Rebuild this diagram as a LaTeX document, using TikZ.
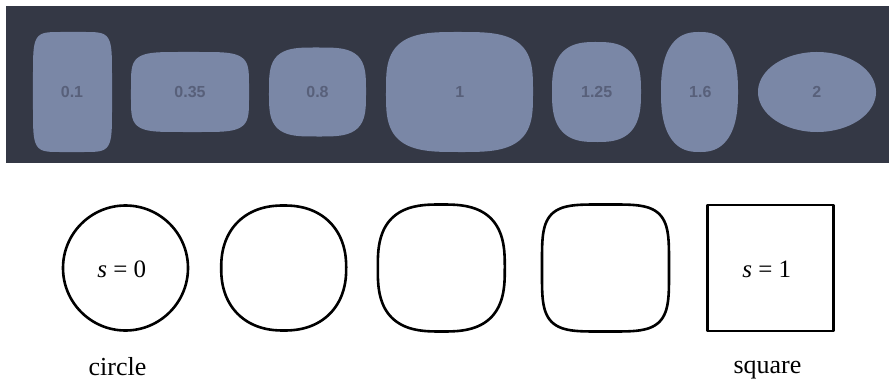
\documentclass[tikz,border=0pt]{standalone}
\usepackage{fontspec}
\setmainfont{Liberation Serif}
\newfontfamily\valuefont{Liberation Sans}
\usepackage{xcolor}
\usepackage{tikz}
\definecolor{panelbg}{RGB}{52,56,69}
\definecolor{blobfill}{RGB}{122,135,166}
\definecolor{blobtext}{RGB}{88,96,122}
\tikzset{
  panel/.style={fill=panelbg, draw=none},
  blob/.style={fill=blobfill, draw=none},
  blobval/.style={font=\valuefont\bfseries\fontsize{16}{18}\selectfont,
                  text=blobtext, anchor=base, inner sep=0pt},
  outline/.style={draw=black, line width=2.6pt, line join=round},
  eqlabel/.style={font=\fontsize{25}{30}\selectfont, anchor=base, inner sep=0pt},
  caption/.style={font=\fontsize{26}{30}\selectfont, anchor=base, inner sep=0pt},
}
% superellipse: centre x, centre y, half width, half height, exponent, style
\newcommand{\squircle}[6]{%
  \path[#6] plot[domain=0.5:360.5, samples=181, variable=\t]
    ({#1+#3*sign(cos(\t))*exp((2/#5)*ln(abs(cos(\t))))},
     {#2+#4*sign(sin(\t))*exp((2/#5)*ln(abs(sin(\t))))}) -- cycle;
}

\begin{document}
\begin{tikzpicture}[x=1pt, y=1pt]
    \useasboundingbox (0,0) rectangle (889,381);
    % dark panel
    \fill[panel] (6,218) rectangle (889,375);
    \squircle{72.5}{289}{39.5}{60}{6.5}{blob}
    \squircle{190}{289}{59}{40}{5}{blob}
    \squircle{317.5}{289}{48.5}{44.5}{3.5}{blob}
    \squircle{459.5}{289}{73.5}{60}{3.3}{blob}
    \squircle{596.5}{289}{44.5}{50}{2.8}{blob}
    \squircle{699.5}{289}{38.5}{60}{2.5}{blob}
    \squircle{817}{289}{59}{40}{2}{blob}
    \node[blobval] (v01)  at (72,283.7)    {0.1};
    \node[blobval] (v035) at (190,283.7)   {0.35};
    \node[blobval] (v08)  at (317.5,283.7) {0.8};
    \node[blobval] (v1)   at (459.7,283.7) {1};
    \node[blobval] (v125) at (596.7,283.7) {1.25};
    \node[blobval] (v16)  at (700.3,283.7) {1.6};
    \node[blobval] (v2)   at (816.7,283.7) {2};
    % outlines from circle to square
    \draw[outline] (125.5,113) circle (62.5);
    \squircle{283.7}{113}{62.5}{62.5}{2.25}{outline}
    \squircle{441.3}{113}{63.5}{63.5}{2.8}{outline}
    \squircle{605.5}{113}{63.5}{63.5}{4.2}{outline}
    \draw[outline] (707.3,50) rectangle (833.4,176);
    \node[eqlabel] (s0) at (121.7,103.5) {\textit{s} = 0};
    \node[eqlabel] (s1) at (766.7,103.5) {\textit{s} = 1};
    \node[caption] (circ) at (117.5,6) {circle};
    \node[caption] (sq)   at (767.5,8) {square};
\end{tikzpicture}
\end{document}
